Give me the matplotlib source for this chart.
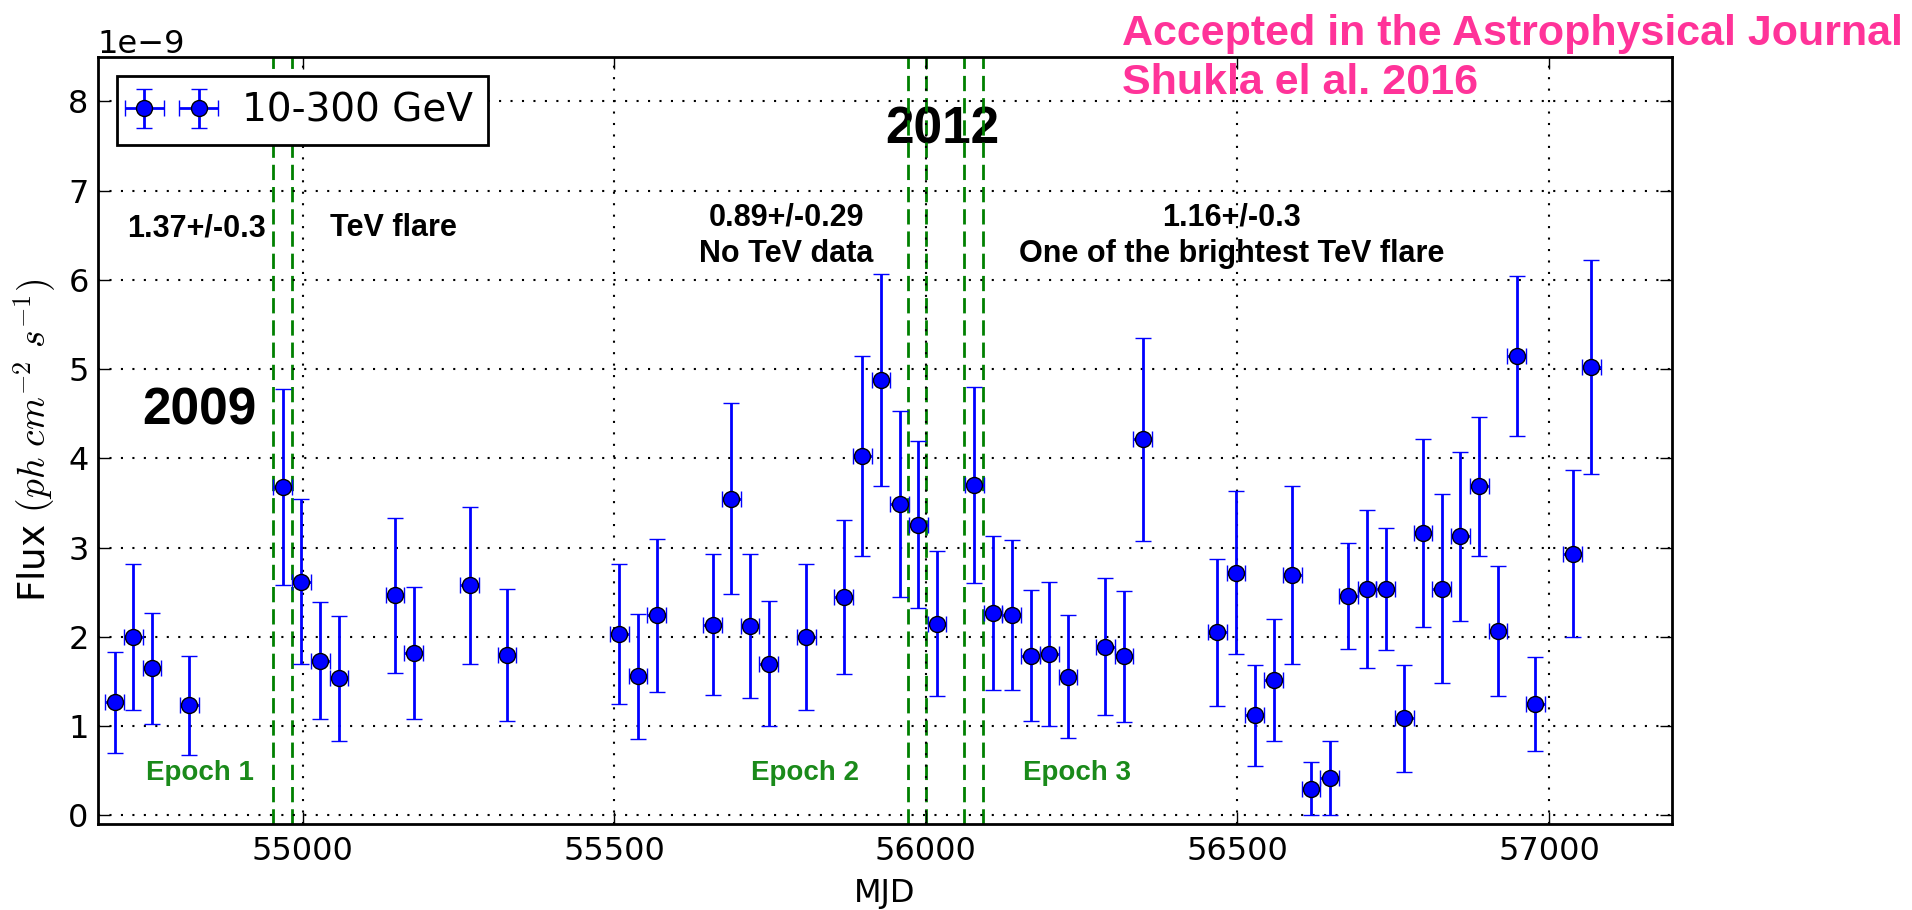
import matplotlib
matplotlib.use("Agg")
import matplotlib.pyplot as plt
import numpy as np

# Fermi-LAT 10-300 GeV light curve, 30-day bins
mjd = [54698, 54728, 54758, 54818, 54968, 54998, 55028, 55058, 55148, 55178,
       55268, 55328, 55508, 55538, 55568, 55658, 55688, 55718, 55748, 55808,
       55868, 55898, 55928, 55958, 55988, 56018, 56078, 56108, 56138, 56168,
       56198, 56228, 56288, 56318, 56348, 56468, 56498, 56528, 56558, 56588,
       56618, 56648, 56678, 56708, 56738, 56768, 56798, 56828, 56858, 56888,
       56918, 56948, 56978, 57038, 57068]
flux = [1.265, 2.00, 1.646, 1.235, 3.68, 2.616, 1.73, 1.537, 2.466, 1.817,
        2.58, 1.795, 2.03, 1.56, 2.24, 2.134, 3.545, 2.12, 1.70, 2.00,
        2.444, 4.03, 4.877, 3.485, 3.254, 2.149, 3.70, 2.27, 2.24, 1.787,
        1.806, 1.552, 1.89, 1.78, 4.213, 2.05, 2.72, 1.12, 1.515, 2.694,
        0.30, 0.414, 2.459, 2.537, 2.537, 1.09, 3.164, 2.54, 3.127, 3.687,
        2.063, 5.146, 1.246, 2.933, 5.02]
flux_err = [0.565, 0.815, 0.625, 0.555, 1.10, 0.925, 0.655, 0.70, 0.87, 0.74,
            0.88, 0.74, 0.785, 0.70, 0.855, 0.79, 1.07, 0.81, 0.70, 0.82,
            0.865, 1.12, 1.19, 1.04, 0.935, 0.81, 1.10, 0.86, 0.84, 0.735,
            0.81, 0.69, 0.77, 0.73, 1.14, 0.82, 0.91, 0.57, 0.68, 0.995,
            0.30, 0.414, 0.597, 0.887, 0.679, 0.60, 1.053, 1.06, 0.948, 0.777,
            0.728, 0.90, 0.53, 0.94, 1.20]
bin_half_width = 15
flux_unit = 1e-9

# Epoch boundaries (MJD)
epoch_edges = [54953, 54983, 55971, 56001, 56061, 56091]

plt.rcParams["font.family"] = "DejaVu Sans"
plt.rcParams["mathtext.fontset"] = "cm"
plt.rcParams["axes.axisbelow"] = False

W, H = 1912, 910
fig = plt.figure(figsize=(W / 100, H / 100), dpi=100)
fig.patch.set_facecolor("white")
left, right, top, bottom = 97.7, 1671.7, 56.7, 824.3
ax = fig.add_axes([left / W, 1 - bottom / H, (right - left) / W, (bottom - top) / H])

y = np.array(flux) * flux_unit
yerr = np.array(flux_err) * flux_unit

for xv in epoch_edges:
    ax.axvline(xv, color="green", linestyle=(0, (5.5, 2.5)), linewidth=2, zorder=2)

ax.errorbar(mjd, y, xerr=bin_half_width, yerr=yerr, fmt="o", color="b",
            ecolor="b", mfc="b", mec="k", mew=1.0, ms=11.5, elinewidth=2,
            capsize=6, capthick=1.5, label="10-300 GeV", zorder=3)

ax.set_xlim(54671, 57197)
ax.set_ylim(-0.1e-9, 8.5e-9)
ax.set_xticks([55000, 55500, 56000, 56500, 57000])
ax.set_yticks(np.arange(0, 9) * flux_unit)

ax.grid(True, color="k", linestyle=(0, (1, 4.5)), linewidth=1.5)
for s in ax.spines.values():
    s.set_linewidth(2)
ax.tick_params(direction="in", top=True, right=True, length=8.5, width=1,
               labelsize=23)
ax.tick_params(axis="x", pad=8.5)
ax.tick_params(axis="y", pad=6.5)
ax.yaxis.get_offset_text().set_fontsize(23)

ax.set_xlabel("MJD", fontsize=23)
ax.xaxis.set_label_coords(0.5, -0.070)
ax.set_ylabel(r"Flux $(ph\ cm^{-2}\ s^{-1})$", fontsize=27)
ax.yaxis.set_label_coords(-0.025, 0.5)

leg = ax.legend(loc="upper left", numpoints=2, fontsize=28, fancybox=False,
                framealpha=1, edgecolor="k", handlelength=2)
leg.get_frame().set_linewidth(2)

bold = dict(family="Liberation Sans", weight="bold", color="k", zorder=1)

def yv(v):
    return v * flux_unit

ax.text(54718, yv(6.49), "1.37+/-0.3", fontsize=22, ha="left", va="baseline", **bold)
ax.text(55044, yv(6.49), "TeV flare", fontsize=22, ha="left", va="baseline", **bold)
ax.text(54743, yv(4.374), "2009", fontsize=37, ha="left", va="baseline", **bold)
ax.text(55935, yv(7.527), "2012", fontsize=37, ha="left", va="baseline", **bold)
ax.text(55776, yv(6.613), "0.89+/-0.29", fontsize=22, ha="center", va="baseline", **bold)
ax.text(55776, yv(6.20), "No TeV data", fontsize=22, ha="center", va="baseline", **bold)
ax.text(56491, yv(6.613), "1.16+/-0.3", fontsize=22, ha="center", va="baseline", **bold)
ax.text(56491, yv(6.20), "One of the brightest TeV flare", fontsize=22,
        ha="center", va="baseline", **bold)

green = dict(family="Liberation Sans", weight="bold", color="#1a8a1a", zorder=1,
             fontsize=20, ha="left", va="baseline")
ax.text(54749, yv(0.40), "Epoch 1", **green)
ax.text(55720, yv(0.40), "Epoch 2", **green)
ax.text(56156, yv(0.40), "Epoch 3", **green)

pink = dict(family="Liberation Sans", weight="bold", color="#ff3399",
            fontsize=31, ha="left", va="baseline")
fig.text(1122 / W, 1 - 45 / H, "Accepted in the Astrophysical Journal", **pink)
fig.text(1122 / W, 1 - 94 / H, "Shukla el al. 2016", **pink)

fig.savefig("out.png", dpi=100, facecolor="white")
